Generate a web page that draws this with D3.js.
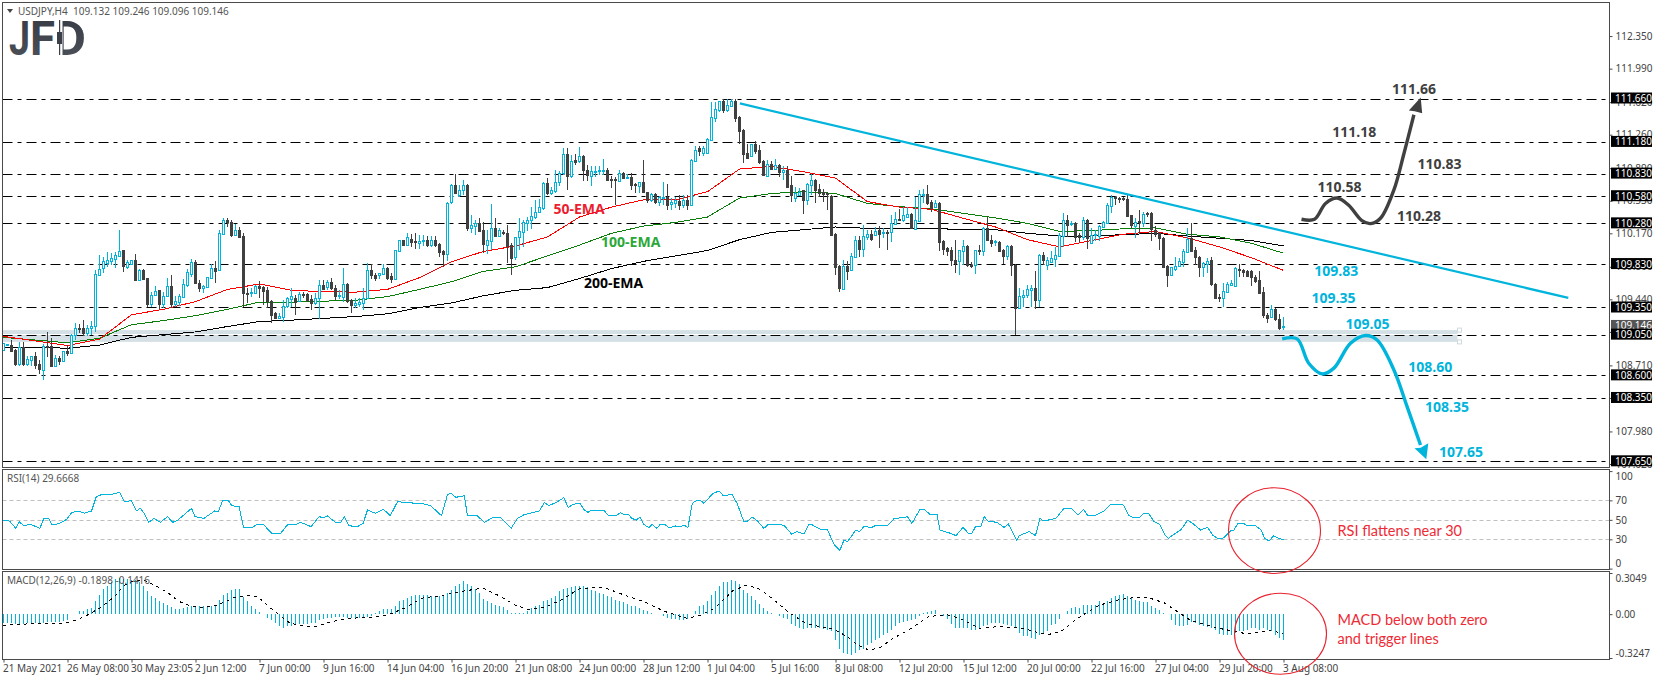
<!DOCTYPE html>
<html>
<head>
<meta charset="utf-8">
<script src="https://cdn.jsdelivr.net/npm/d3@7"></script>
<style>
  html, body { margin: 0; padding: 0; background: #fff; overflow: hidden; }
  text { font-family: "Noto Sans", sans-serif; }
</style>
</head>
<body>
<script>
// open, high, low, close of every H4 bar
const candleRows = [
[108.88,108.96,108.87,108.96],[108.94,108.95,108.93,108.95],[108.94,108.99,108.87,108.87],[108.88,108.89,108.70,108.72],[108.72,108.97,108.70,108.91],
[108.91,108.97,108.70,108.72],[108.72,108.81,108.70,108.78],[108.77,108.81,108.70,108.81],[108.81,108.86,108.67,108.71],[108.72,108.77,108.61,108.66],
[108.66,108.95,108.55,108.92],[108.92,109.08,108.80,108.91],[108.92,109.01,108.70,108.70],[108.70,108.82,108.70,108.79],[108.79,108.81,108.71,108.76],
[108.76,108.87,108.75,108.87],[108.87,108.94,108.81,108.85],[108.85,109.06,108.84,109.05],[109.04,109.18,108.99,109.12],[109.12,109.17,109.07,109.11],
[109.12,109.21,109.03,109.07],[109.07,109.16,109.03,109.12],[109.12,109.20,109.05,109.14],[109.14,109.76,109.08,109.72],[109.71,109.93,109.71,109.78],
[109.78,109.91,109.73,109.86],[109.85,109.96,109.80,109.88],[109.87,109.95,109.82,109.90],[109.89,109.96,109.79,109.93],[109.92,110.21,109.91,109.97],
[109.98,109.99,109.74,109.80],[109.80,109.87,109.77,109.85],[109.83,109.875,109.82,109.87],[109.875,109.94,109.64,109.65],[109.65,109.77,109.64,109.765],
[109.765,109.77,109.65,109.66],[109.68,109.68,109.35,109.39],[109.39,109.525,109.35,109.49],[109.485,109.59,109.48,109.53],[109.54,109.54,109.33,109.39],
[109.39,109.525,109.34,109.48],[109.48,109.68,109.47,109.59],[109.59,109.71,109.34,109.39],[109.39,109.48,109.35,109.42],[109.415,109.50,109.37,109.48],
[109.47,109.66,109.45,109.61],[109.60,109.77,109.58,109.74],[109.72,109.89,109.69,109.85],[109.85,109.87,109.61,109.62],[109.62,109.65,109.525,109.57],
[109.57,109.60,109.51,109.59],[109.58,109.69,109.565,109.69],[109.68,109.83,109.67,109.79],[109.79,109.86,109.625,109.76],[109.76,110.21,109.75,110.17],
[110.16,110.34,110.15,110.32],[110.32,110.34,110.24,110.30],[110.29,110.32,110.13,110.15],[110.16,110.27,110.14,110.21],[110.21,110.24,110.115,110.13],
[110.14,110.17,109.35,109.51],[109.51,109.56,109.40,109.50],[109.51,109.56,109.47,109.52],[109.515,109.60,109.51,109.59],[109.59,109.64,109.46,109.565],
[109.58,109.59,109.38,109.54],[109.54,109.58,109.34,109.42],[109.425,109.43,109.18,109.27],[109.29,109.30,109.22,109.24],[109.24,109.29,109.22,109.26],
[109.25,109.43,109.19,109.37],[109.36,109.47,109.34,109.45],[109.45,109.56,109.35,109.48],[109.46,109.49,109.27,109.42],[109.425,109.525,109.42,109.50],
[109.50,109.525,109.45,109.49],[109.50,109.51,109.415,109.43],[109.44,109.49,109.32,109.40],[109.40,109.51,109.38,109.46],[109.46,109.65,109.22,109.60],
[109.60,109.65,109.55,109.56],[109.57,109.65,109.54,109.63],[109.63,109.68,109.54,109.56],[109.57,109.60,109.43,109.485],[109.48,109.54,109.44,109.485],
[109.47,109.79,109.415,109.61],[109.61,109.625,109.40,109.425],[109.43,109.44,109.29,109.38],[109.38,109.45,109.34,109.40],[109.39,109.45,109.35,109.41],
[109.40,109.57,109.32,109.46],[109.455,109.84,109.44,109.765],[109.765,109.83,109.67,109.71],[109.71,109.73,109.64,109.68],[109.705,109.735,109.66,109.73],
[109.72,109.83,109.71,109.79],[109.79,109.795,109.65,109.68],[109.70,109.73,109.62,109.67],[109.67,109.99,109.66,109.99],[109.98,110.10,109.96,110.10],
[110.10,110.10,110.03,110.04],[110.04,110.17,110.03,110.13],[110.11,110.16,110.02,110.08],[110.09,110.17,110.00,110.08],[110.07,110.15,110.00,110.09],
[110.085,110.15,110.03,110.095],[110.10,110.14,110.02,110.04],[110.04,110.14,110.02,110.10],[110.10,110.14,110.02,110.04],[110.05,110.06,109.91,109.96],
[109.97,109.98,109.80,109.94],[109.95,110.52,109.86,110.51],[110.51,110.72,110.49,110.70],[110.70,110.825,110.60,110.61],[110.60,110.70,110.57,110.65],
[110.65,110.76,110.59,110.70],[110.70,110.71,110.19,110.23],[110.23,110.37,110.17,110.26],[110.25,110.32,110.15,110.28],[110.28,110.335,110.18,110.19],
[110.21,110.30,109.955,110.06],[110.05,110.21,109.94,110.10],[110.09,110.49,109.98,110.23],[110.23,110.335,110.125,110.14],[110.14,110.23,110.13,110.21],
[110.18,110.21,110.15,110.17],[110.17,110.26,109.84,110.03],[110.04,110.06,109.71,109.90],[109.90,110.13,109.87,110.125],[110.12,110.335,109.98,110.19],
[110.18,110.32,110.02,110.295],[110.29,110.35,110.19,110.32],[110.32,110.46,110.22,110.36],[110.35,110.54,110.33,110.405],[110.40,110.55,110.39,110.46],
[110.45,110.74,110.43,110.725],[110.725,110.78,110.59,110.61],[110.615,110.68,110.59,110.645],[110.64,110.87,110.61,110.74],[110.735,110.86,110.69,110.84],
[110.84,111.11,110.81,111.05],[111.05,111.11,110.65,110.81],[110.80,111.035,110.78,110.965],[110.98,111.05,110.92,110.96],[110.96,111.12,110.95,111.02],
[111.02,111.035,110.75,110.86],[110.87,110.92,110.75,110.81],[110.805,110.91,110.69,110.855],[110.85,110.91,110.795,110.86],[110.86,110.91,110.81,110.87],
[110.86,110.99,110.81,110.875],[110.87,110.89,110.75,110.76],[110.77,110.80,110.67,110.76],[110.77,110.79,110.48,110.76],[110.75,110.875,110.74,110.84],
[110.84,110.85,110.77,110.78],[110.78,110.825,110.77,110.79],[110.79,110.84,110.65,110.70],[110.71,110.73,110.61,110.70],[110.70,110.74,110.61,110.74],
[110.74,110.98,110.61,110.63],[110.63,110.63,110.50,110.54],[110.53,110.61,110.52,110.60],[110.60,110.61,110.49,110.51],[110.51,110.58,110.47,110.57],
[110.56,110.74,110.48,110.57],[110.57,110.72,110.43,110.48],[110.49,110.56,110.43,110.515],[110.51,110.57,110.45,110.54],[110.53,110.59,110.43,110.49],
[110.49,110.59,110.45,110.54],[110.54,110.59,110.43,110.485],[110.485,110.99,110.47,110.98],[110.97,111.13,110.96,111.09],[111.11,111.13,111.02,111.08],
[111.06,111.13,111.02,111.11],[111.06,111.22,111.05,111.21],[111.20,111.625,111.195,111.45],[111.44,111.625,111.40,111.54],[111.53,111.635,111.51,111.63],
[111.63,111.66,111.50,111.53],[111.53,111.66,111.51,111.59],[111.58,111.66,111.57,111.63],[111.635,111.66,111.40,111.45],[111.46,111.465,111.16,111.30],
[111.31,111.32,110.95,111.05],[111.06,111.16,111.00,111.01],[111.02,111.16,111.01,111.155],[111.155,111.19,111.05,111.08],[111.09,111.145,110.94,110.96],
[110.97,110.98,110.80,110.81],[110.81,110.98,110.80,110.94],[110.94,110.965,110.87,110.88],[110.89,110.99,110.875,110.93],[110.93,110.935,110.79,110.855],
[110.855,110.91,110.76,110.875],[110.875,110.91,110.68,110.69],[110.70,110.80,110.515,110.59],[110.57,110.685,110.52,110.62],[110.60,110.67,110.59,110.63],
[110.65,110.65,110.38,110.54],[110.54,110.73,110.48,110.715],[110.71,110.83,110.59,110.76],[110.76,110.77,110.51,110.65],[110.66,110.72,110.575,110.62],
[110.63,110.66,110.52,110.605],[110.62,110.63,110.43,110.605],[110.58,110.595,110.14,110.15],[110.16,110.17,109.71,109.80],[109.81,109.82,109.525,109.57],
[109.56,109.87,109.54,109.81],[109.81,109.86,109.65,109.76],[109.76,109.95,109.76,109.92],[109.91,110.14,109.905,110.10],[110.10,110.14,109.905,110.00],
[110.00,110.26,109.905,110.14],[110.125,110.21,110.10,110.16],[110.16,110.21,110.09,110.10],[110.155,110.24,110.15,110.20],[110.21,110.25,110.01,110.17],
[110.17,110.225,110.115,110.18],[110.18,110.21,109.98,110.17],[110.18,110.37,110.07,110.28],[110.275,110.41,110.26,110.325],[110.33,110.435,110.31,110.32],
[110.32,110.46,110.29,110.37],[110.35,110.46,110.35,110.38],[110.38,110.39,110.215,110.225],[110.215,110.575,110.21,110.32],[110.31,110.65,110.30,110.605],
[110.60,110.66,110.50,110.605],[110.605,110.70,110.48,110.51],[110.515,110.54,110.405,110.45],[110.46,110.54,110.445,110.50],[110.51,110.52,109.97,110.08],
[110.09,110.10,109.93,110.00],[110.01,110.02,109.92,109.98],[109.985,110.02,109.81,109.875],[109.88,110.10,109.735,109.85],[109.86,109.99,109.71,109.985],
[109.98,110.10,109.82,110.03],[110.03,110.04,109.80,109.82],[109.825,109.85,109.785,109.82],[109.82,109.99,109.72,109.985],[109.985,110.04,109.93,109.98],
[109.98,110.24,109.92,110.23],[110.23,110.35,110.08,110.10],[110.10,110.15,110.02,110.07],[110.07,110.10,110.03,110.08],[110.075,110.08,109.97,109.98],
[109.99,110.00,109.83,109.92],[109.92,110.04,109.88,110.03],[110.03,110.04,109.70,109.82],[109.82,109.83,109.05,109.35],[109.35,109.57,109.34,109.48],
[109.47,109.54,109.36,109.49],[109.48,109.60,109.46,109.55],[109.54,109.60,109.36,109.565],[109.565,109.75,109.33,109.43],[109.43,109.94,109.36,109.93],
[109.93,109.96,109.82,109.87],[109.82,109.905,109.76,109.875],[109.86,109.97,109.84,109.90],[109.89,110.02,109.80,109.93],[109.92,110.17,109.91,110.15],
[110.14,110.39,110.02,110.32],[110.32,110.37,110.13,110.265],[110.265,110.31,110.25,110.28],[110.28,110.30,110.07,110.13],[110.15,110.17,110.07,110.125],
[110.13,110.35,110.10,110.32],[110.32,110.325,110.00,110.125],[110.06,110.225,110.05,110.15],[110.15,110.21,110.08,110.16],[110.14,110.26,110.08,110.25],
[110.24,110.31,110.24,110.295],[110.29,110.50,110.28,110.485],[110.48,110.595,110.39,110.575],[110.57,110.58,110.48,110.56],[110.56,110.575,110.51,110.545],
[110.555,110.575,110.53,110.55],[110.55,110.595,110.355,110.36],[110.37,110.37,110.225,110.26],[110.26,110.335,110.115,110.30],[110.31,110.43,110.16,110.295],
[110.29,110.41,110.24,110.385],[110.39,110.41,110.35,110.385],[110.39,110.40,110.09,110.21],[110.21,110.25,110.125,110.17],[110.17,110.18,109.98,110.12],
[110.12,110.125,109.795,109.80],[109.81,109.82,109.58,109.715],[109.71,109.80,109.70,109.795],[109.78,109.91,109.75,109.81],[109.80,109.893,109.795,109.86],
[109.85,110.00,109.795,109.97],[109.965,110.225,109.95,110.11],[110.12,110.28,109.97,109.98],[109.99,110.02,109.82,109.91],[109.91,109.92,109.685,109.80],
[109.80,109.855,109.685,109.84],[109.83,109.90,109.73,109.86],[109.87,109.91,109.59,109.60],[109.61,109.62,109.455,109.455],[109.47,109.50,109.415,109.455],
[109.455,109.62,109.36,109.53],[109.525,109.63,109.515,109.61],[109.60,109.655,109.595,109.62],[109.59,109.80,109.58,109.785],[109.775,109.83,109.685,109.76],
[109.765,109.775,109.685,109.745],[109.75,109.76,109.685,109.70],[109.75,109.765,109.59,109.685],[109.685,109.71,109.625,109.64],[109.655,109.755,109.51,109.515],
[109.52,109.58,109.23,109.27],[109.27,109.29,109.18,109.24],[109.24,109.38,109.23,109.33],[109.33,109.34,109.205,109.22],[109.225,109.28,109.10,109.12],
[109.132,109.246,109.096,109.146]
];

// EMA readings, one every 8 bars
const emaBars = d3.range(0, 321, 8);
const ema50 = [109.03,108.98,108.93,109.00,109.27,109.33,109.415,109.55,109.61,109.54,109.525,109.52,109.55,109.68,109.855,109.97,110.03,110.13,110.35,110.46,110.54,110.54,110.63,110.88,110.91,110.85,110.78,110.52,110.46,110.435,110.335,110.24,110.10,110.02,110.09,110.16,110.19,110.12,110.02,109.90,109.76];
const ema100 = [109.02,108.99,108.96,109.01,109.16,109.205,109.26,109.33,109.41,109.41,109.42,109.43,109.47,109.55,109.635,109.75,109.80,109.92,110.04,110.17,110.25,110.29,110.35,110.56,110.61,110.63,110.61,110.50,110.465,110.44,110.39,110.34,110.28,110.19,110.20,110.22,110.23,110.16,110.13,110.06,109.95];
const ema200 = [108.91,108.91,108.90,108.935,109.02,109.05,109.08,109.14,109.195,109.21,109.23,109.25,109.28,109.35,109.40,109.48,109.54,109.57,109.67,109.78,109.86,109.92,109.98,110.10,110.18,110.21,110.24,110.225,110.225,110.225,110.21,110.21,110.17,110.14,110.14,110.155,110.17,110.14,110.115,110.09,110.03];

// RSI turning points: [bar, value]
const rsiPoints = [
[0,49.8],[1.5,48.8],[3.1,41.3],[3.9,48.1],[5.1,44],[6.8,45.4],[9.1,41.3],[10.1,51.5],[11.3,51.5],[12.2,44.7],[14,46.4],[15.8,50.5],[17.1,57.7],[18.9,59.1],[20.2,56.7],[22,59.1],[23.2,73.8],[24.7,76.2],[27.4,76.5],[29,78.2],
[30.2,68.6],[32,69.7],[33.2,59.1],[34.2,61.8],[35.2,56.7],[36.3,47.4],[37.6,51.5],[39.2,47.4],[41,53.3],[42.3,47.4],[43.6,49.8],[47,61.8],[47.9,53.3],[50.1,51.5],[52.8,59.1],[53.7,58.4],[54.8,69.7],[56.2,70],[57.1,64.5],[58.9,63.5],
[60,42.3],[62.2,42.3],[63.4,45.4],[64.9,45.4],[67.1,36.2],[69.3,36.2],[71.1,45.4],[72.9,44.7],[74.3,47.4],[76.9,43],[78.9,53.3],[79.9,52.2],[81,54],[83,47.4],[84.3,47.4],[85.2,53.3],[86.3,44],[88.5,43],[89.9,46.4],[91,60.1],
[93,56.7],[95,60.8],[96.7,54.3],[98.5,68.6],[100.2,68],[105,66.3],[106.8,64.5],[109.5,54.3],[111,76.2],[111.9,77.2],[113.1,73.1],[115.2,74.8],[116,54],[118.5,54],[120.2,47.4],[122.3,52.2],[124.3,52.2],[126.9,41.3],[128.5,51.5],[130,55],
[134,59.1],[135.2,68],[136.3,64.5],[138.5,68.6],[140.1,72.8],[141.2,62.5],[142.3,65.9],[144.1,67],[145.2,60.1],[146.1,57.7],[147,59.8],[150.1,59.8],[151.2,54.6],[153.3,54.6],[154.2,57.4],[155.1,55.7],[156.2,55.7],[157.1,51.5],[158.2,49.8],[159.1,52.6],
[160.1,45.4],[161.3,42],[162.2,45.4],[163.3,41.3],[164.2,45.4],[165.3,45.4],[166.4,42],[168,43.7],[169.3,43],[170.2,44.7],[171.1,42],[172.2,67],[173.4,70],[174.25,70],[175.1,67],[177.4,77.2],[178.9,79.6],[180,74.5],[182.1,76.2],[183.4,67],
[185.1,48.1],[186,48.8],[187.2,52.9],[188.5,48.8],[190.1,41.3],[191.2,45.4],[193.9,45.4],[195.2,44],[197,35.5],[198.4,37.9],[200.1,35.5],[201.2,44.7],[201.9,45.4],[204.2,40.6],[206,39.6],[207.7,24.2],[209.1,18.7],[210.1,29],[211,27.6],[213.1,39.6],
[214,37.9],[215.1,43],[217.1,42.3],[218.2,44.7],[221.1,44.7],[222.7,51.5],[224.7,52.2],[226,53.3],[227.1,46.4],[229.2,61.1],[230.1,61.1],[231.8,55],[233.4,55],[234.1,39.6],[236.75,36.2],[238.1,33.8],[239.9,42.3],[241.2,36.2],[242.1,36.2],[243,43],
[244.3,43],[245.2,53.3],[246.1,48.8],[248.4,47.4],[250.1,42.3],[251.2,45.7],[253.3,29],[253.9,33.8],[256.4,37.9],[258,33.8],[259.1,51.5],[260.1,48.8],[263.1,51.5],[265.1,61.8],[267.1,61.1],[268.7,55],[270,60.8],[271.1,54],[272.6,54],[275.1,59.1],
[276.75,65.9],[280,65.2],[281.2,55],[282.5,52.2],[284.1,52.6],[285.1,56.7],[286.3,56.7],[287.5,48.8],[289,45.4],[290.5,33.8],[291.2,31],[293,36.2],[294.3,39.6],[296.1,49.8],[297.6,45.4],[299.25,39.6],[301,42.3],[302.4,33.8],[303.9,30.3],[305.05,31.7],
[306.8,38.6],[307.5,38.6],[308.6,46.4],[310,46.4],[311,43.7],[313.1,43.7],[314.4,39.6],[315.3,31],[316.4,28.3],[317.55,33.8],[318.7,31],[320,29.67]
];

// MACD histogram, one value per bar
const macdHist = [
-.065,-.065,-.068,-.07,-.07,-.07,-.068,-.068,-.066,-.062,-.062,-.06,-.06,-.06,-.058,-.05,-.04,-.002,.002,.02,
.025,.037,.045,.10,.143,.185,.21,.24,.26,.267,.26,.26,.255,.255,.24,.205,.168,.138,.12,.094,
.08,.07,.052,.04,.037,.044,.05,.057,.06,.06,.06,.062,.062,.07,.105,.143,.155,.18,.188,.188,
.13,.10,.057,.037,.015,0,-.025,-.042,-.062,-.084,-.099,-.091,-.084,-.079,-.074,-.072,-.072,-.069,-.062,-.042,
-.035,-.03,-.025,-.022,-.02,-.022,-.03,-.03,-.03,-.03,-.028,-.02,-.01,.007,.02,.04,.04,.04,.057,.094,
.106,.123,.136,.143,.143,.143,.143,.138,.138,.138,.143,.155,.18,.205,.222,.242,.222,.205,.188,.155,
.114,.094,.08,.07,.062,.05,.032,.012,.007,.007,.012,.025,.044,.057,.07,.10,.106,.119,.136,.168,
.188,.193,.198,.205,.21,.205,.2,.18,.168,.156,.148,.138,.124,.106,.099,.089,.074,.064,.057,.044,
.032,.02,.005,.002,.002,-.017,-.03,-.035,-.035,-.04,-.042,-.035,-.002,.02,.057,.069,.099,.143,.173,.212,
.237,.237,.254,.249,.222,.18,.156,.131,.106,.074,.044,.02,.007,.001,-.017,-.025,-.035,-.074,-.086,-.104,
-.109,-.104,-.099,-.099,-.099,-.109,-.121,-.128,-.195,-.257,-.289,-.296,-.301,-.289,-.264,-.257,-.227,-.215,-.195,-.178,
-.158,-.136,-.121,-.091,-.067,-.059,-.049,-.042,-.035,-.017,.007,.015,.02,.032,.002,-.017,-.035,-.074,-.099,-.099,
-.104,-.104,-.121,-.116,-.104,-.091,-.079,-.067,-.067,-.067,-.074,-.079,-.084,-.104,-.141,-.165,-.165,-.173,-.183,-.153,
-.141,-.128,-.079,-.074,-.035,-.001,.025,.049,.052,.049,.069,.069,.069,.069,.099,.075,.099,.119,.131,.143,
.148,.138,.126,.106,.094,.089,.089,.064,.049,.032,.007,-.001,-.042,-.079,-.086,-.086,-.079,-.059,-.067,-.079,
-.084,-.096,-.099,-.116,-.148,-.158,-.158,-.153,-.141,-.124,-.124,-.116,-.104,-.099,-.116,-.104,-.116,-.128,-.158,-.173,-.1898
];

// MACD signal line: [bar, value]
const macdSignal = [
[0,-.084],[4.6,-.074],[9.1,-.069],[15.3,-.067],[18.4,-.042],[21.1,-.005],[24.3,.049],[27.8,.131],[30.1,.212],[32.7,.249],[35.4,.249],[38.5,.205],[41.2,.156],[43.9,.094],[46.6,.062],[50.2,.049],[53.7,.069],[57.3,.119],[60.9,.138],[63.5,.131],
[65.8,.069],[68.4,.007],[71.6,-.067],[75.2,-.089],[78.3,-.089],[82.3,-.054],[86.7,-.03],[91.2,-.025],[96.1,-.005],[100.2,.044],[104.6,.119],[109.1,.136],[114.4,.168],[119.8,.193],[124.3,.131],[127.8,.069],[131.4,.032],[135.9,.057],[140.3,.119],[143.9,.188],
[148.4,.198],[151,.188],[154.6,.148],[160,.094],[165.3,.02],[170.7,-.03],[174.25,-.01],[177.8,.044],[182.3,.173],[185.9,.217],[189.4,.18],[192.6,.106],[196.6,.007],[201,-.074],[207.3,-.109],[210.9,-.165],[213.5,-.227],[216.2,-.264],[218.9,-.252],[222.5,-.178],
[227,-.104],[231.4,-.017],[235.9,-.005],[239.4,-.035],[243.9,-.104],[249.25,-.091],[254.6,-.104],[260.9,-.153],[264.4,-.128],[268,-.042],[272.5,.044],[274.25,.069],[278.7,.106],[283.2,.126],[285.9,.126],[290.3,.082],[293.45,.02],[296.6,-.042],[301,-.084],[304.6,-.109],
[310,-.141],[312.6,-.141],[316.2,-.121],[320,-.1416]
];

const dateLabels = ["21 May 2021","26 May 08:00","30 May 23:05","2 Jun 12:00","7 Jun 00:00","9 Jun 16:00","14 Jun 04:00","16 Jun 20:00","21 Jun 08:00","24 Jun 00:00","28 Jun 12:00","1 Jul 04:00","5 Jul 16:00","8 Jul 08:00","12 Jul 20:00","15 Jul 12:00","20 Jul 00:00","22 Jul 16:00","27 Jul 04:00","29 Jul 20:00","3 Aug 08:00"];
const dateBars = d3.range(0, 321, 16);

const priceTicks = [112.35,111.99,111.62,111.26,110.89,110.53,110.17,109.80,109.44,109.08,108.71,108.35,107.98,107.62];
const levels = [111.66,111.18,110.83,110.58,110.28,109.83,109.35,109.05,108.60,108.35,107.65];
const lastPrice = 109.146;
const rsiLevels = [70,50,30];
const rsiTicks = [100,70,50,30,0];
const macdTicks = [0.3049,0,-0.3247];

// zone under 109.05
const zoneBars = [0, 363.5], zonePrices = [109.10, 108.97];

// drawn on the chart: trendline and the two projected paths, as [bar, price]
const trendline = [[184.1,111.606],[391.2,109.456]];
const upPath = [[324.5,110.325],[327.75,110.325],[330.5,110.50],[333.4,110.56],[336.3,110.48],[339.6,110.31],[341.75,110.277],[344.25,110.336],[347.6,110.65],[350.1,111.05],[352.6,111.48]];
const upHead = [[354.3,111.67],[351.33,111.526],[352.8,111.52],[354.67,111.496]];
const downPath = [[319.67,109.003],[323.4,109.003],[326.3,108.734],[329.7,108.616],[332.6,108.68],[336.75,108.955],[340.5,109.04],[343.4,108.99],[347.6,108.66],[350.9,108.255],[354.25,107.83]];
const downHead = [[355.7,107.673],[352.75,107.795],[354.3,107.80],[356.2,107.85]];

// annotation texts, placed as [bar, price]
const upLabels = [["111.66",347.1,111.71],["111.18",332.2,111.23],["110.83",353.5,110.88],["110.58",328.5,110.63],["110.28",348.4,110.31]];
const downLabels = [["109.83",327.7,109.70],["109.35",327,109.40],["109.05",335.5,109.11],["108.60",351.2,108.64],["108.35",355.4,108.19],["107.65",358.9,107.70]];
const emaLabels = [["50-EMA",137.5,110.38,"#ed1c2e"],["100-EMA",149.4,110.02,"#2aa838"],["200-EMA",145.1,109.565,"#000"]];

const width = 1655, height = 680;
const blue = "#00b4dc", dark = "#404040", frameColour = "#4a4a4a";

const svg = d3.select("body").append("svg")
    .attr("width", width)
    .attr("height", height)
    .style("display", "block");

svg.append("rect").attr("width", width).attr("height", height).attr("fill", "white");

const x = d3.scaleLinear().domain([0, 320]).range([3.5, 1283.5]);
const yPrice = d3.scaleLinear().domain([107.65, 111.66]).range([461.3, 98.5]);
const yRsi = d3.scaleLinear().domain([0, 100]).range([568.6, 471.1]);
const yMacd = d3.scaleLinear().domain([-0.3247, 0.3049]).range([658, 573]);

const left = 2.5, right = 1609.5;
const panels = [[2.5, 467.5], [469.5, 569.5], [571.5, 659.5]];

function toPoints(rows, yScale) {
    return rows.map(d => [x(d[0]), yScale(d[1])]);
}

// zone band
svg.append("rect")
    .attr("x", left)
    .attr("y", yPrice(zonePrices[0]))
    .attr("width", x(zoneBars[1]) - left)
    .attr("height", yPrice(zonePrices[1]) - yPrice(zonePrices[0]))
    .attr("fill", "#d4e0e5");
svg.selectAll("rect.handle")
    .data(zonePrices)
    .enter().append("rect")
        .attr("class", "handle")
        .attr("x", x(zoneBars[1]))
        .attr("y", d => yPrice(d) - 2)
        .attr("width", 4)
        .attr("height", 4)
        .attr("fill", "white")
        .attr("stroke", "#d0dadf");
svg.append("line")
    .attr("x1", left).attr("x2", x(zoneBars[1]))
    .attr("y1", Math.round(yPrice(109.05)) - 0.5).attr("y2", Math.round(yPrice(109.05)) - 0.5)
    .attr("stroke", "white");

// dash-dot price levels
svg.selectAll("line.level")
    .data(levels)
    .enter().append("line")
        .attr("class", "level")
        .attr("x1", left).attr("x2", right)
        .attr("y1", d => Math.round(yPrice(d)) + 0.5)
        .attr("y2", d => Math.round(yPrice(d)) + 0.5)
        .attr("stroke", "black")
        .attr("stroke-dasharray", "10 5 4 5");

// EMAs
const emaLine = d3.line().x((d, i) => x(emaBars[i])).y(d => yPrice(d));
[[ema200, "#000"], [ema100, "#0a7d0a"], [ema50, "#f00"]].forEach(([values, colour]) => {
    svg.append("path")
        .attr("d", emaLine(values))
        .attr("fill", "none")
        .attr("stroke", colour)
        .attr("shape-rendering", "crispEdges");
});

// candles
const candles = svg.append("g").attr("shape-rendering", "crispEdges")
    .selectAll("g")
    .data(candleRows)
    .enter().append("g");

candles.append("line")
    .attr("x1", (d, i) => x(i)).attr("x2", (d, i) => x(i))
    .attr("y1", d => yPrice(d[1])).attr("y2", d => yPrice(d[2]))
    .attr("stroke", d => d[3] >= d[0] ? blue : dark);

candles.append("rect")
    .attr("x", (d, i) => x(i) - 1)
    .attr("y", d => Math.round(yPrice(Math.max(d[0], d[3]))) + 0.5)
    .attr("width", 2)
    .attr("height", d => Math.max(1, Math.round(Math.abs(yPrice(d[0]) - yPrice(d[3])))))
    .attr("fill", d => d[3] >= d[0] ? "white" : dark)
    .attr("stroke", d => d[3] >= d[0] ? blue : dark);

// trendline and projected paths
svg.append("path")
    .attr("d", d3.line()(toPoints(trendline, yPrice)))
    .attr("fill", "none")
    .attr("stroke", blue)
    .attr("stroke-width", 2.2);

const smooth = d3.line().curve(d3.curveCatmullRom.alpha(0.5));
[[upPath, upHead, dark], [downPath, downHead, blue]].forEach(([path, head, colour]) => {
    svg.append("path")
        .attr("d", smooth(toPoints(path, yPrice)))
        .attr("fill", "none")
        .attr("stroke", colour)
        .attr("stroke-width", 3.4);
    svg.append("polygon")
        .attr("points", toPoints(head, yPrice).join(" "))
        .attr("fill", colour);
});

// annotation labels
function boldLabels(cls, rows, colour) {
    svg.selectAll("text." + cls)
        .data(rows)
        .enter().append("text")
            .attr("class", cls)
            .attr("x", d => x(d[1]))
            .attr("y", d => yPrice(d[2]))
            .attr("fill", d => d[3] || colour)
            .style("font-family", "'Open Sans'")
            .style("font-weight", 700)
            .style("font-size", "14px")
            .text(d => d[0]);
}
boldLabels("up", upLabels, dark);
boldLabels("down", downLabels, blue);
boldLabels("ema", emaLabels);

// RSI panel
svg.selectAll("line.rsi-level")
    .data(rsiLevels)
    .enter().append("line")
        .attr("class", "rsi-level")
        .attr("x1", left).attr("x2", right)
        .attr("y1", d => Math.round(yRsi(d)) + 0.5)
        .attr("y2", d => Math.round(yRsi(d)) + 0.5)
        .attr("stroke", "#c0c0c0")
        .attr("stroke-dasharray", "4 3");

svg.append("path")
    .attr("d", d3.line()(toPoints(rsiPoints, yRsi)))
    .attr("fill", "none")
    .attr("stroke", blue)
    .attr("shape-rendering", "crispEdges");

// MACD panel
svg.append("g").attr("shape-rendering", "crispEdges")
    .selectAll("line")
    .data(macdHist)
    .enter().append("line")
        .attr("x1", (d, i) => x(i)).attr("x2", (d, i) => x(i))
        .attr("y1", yMacd(0))
        .attr("y2", d => yMacd(d))
        .attr("stroke", blue);

svg.append("path")
    .attr("d", d3.line()(toPoints(macdSignal, yMacd)))
    .attr("fill", "none")
    .attr("stroke", "black")
    .attr("shape-rendering", "crispEdges")
    .attr("stroke-dasharray", "3 4");

// frames
svg.selectAll("rect.frame")
    .data(panels)
    .enter().append("rect")
        .attr("class", "frame")
        .attr("x", left).attr("y", d => d[0])
        .attr("width", right - left).attr("height", d => d[1] - d[0])
        .attr("fill", "none")
        .attr("stroke", frameColour);

// axes
function styleAxis(g) {
    g.select(".domain").remove();
    g.selectAll("line").attr("stroke", frameColour);
    g.selectAll("text")
        .attr("fill", "#444")
        .style("font-family", "'Noto Sans'")
        .style("font-size", "10px");
}

svg.append("g")
    .attr("transform", `translate(${right},0)`)
    .call(d3.axisRight(yPrice).tickValues(priceTicks).tickFormat(d3.format(".3f")).tickSize(3).tickPadding(3))
    .call(styleAxis);

svg.append("g")
    .attr("transform", `translate(${right},0)`)
    .call(d3.axisRight(yRsi).tickValues(rsiTicks).tickSize(3).tickPadding(3))
    .call(styleAxis)
    .selectAll("text")
    .attr("dy", d => d === 100 ? "0.85em" : d === 0 ? "-0.25em" : "0.32em");

svg.append("g")
    .attr("transform", `translate(${right},0)`)
    .call(d3.axisRight(yMacd).tickValues(macdTicks).tickFormat(d => d === 0 ? "0.00" : d).tickSize(3).tickPadding(3))
    .call(styleAxis)
    .selectAll("text")
    .attr("dy", d => d > 0 ? "0.85em" : d < 0 ? "-0.2em" : "0.32em");

svg.append("g")
    .attr("transform", `translate(0,${panels[2][1]})`)
    .call(d3.axisBottom(x).tickValues(dateBars).tickFormat((d, i) => dateLabels[i]).tickSize(3).tickPadding(2))
    .call(styleAxis)
    .selectAll("text")
    .attr("text-anchor", "start")
    .attr("dx", -1);

// boxed levels on the price axis
const boxes = [{ price: lastPrice, fill: "#555", text: "109.146" }]
    .concat(levels.map(d => ({ price: d, fill: "black", text: d.toFixed(3) })));
const box = svg.selectAll("g.box").data(boxes).enter().append("g").attr("class", "box");
box.append("rect")
    .attr("x", 1611).attr("y", d => yPrice(d.price) - 6)
    .attr("width", 41).attr("height", 11)
    .attr("fill", d => d.fill);
box.append("text")
    .attr("x", 1615).attr("y", d => yPrice(d.price) + 3.5)
    .attr("fill", "white")
    .style("font-size", "10px")
    .text(d => d.text);

// headers
svg.append("path").attr("d", "M7,9 L13,9 L10,13 Z").attr("fill", "#444");
svg.append("text").attr("x", 18).attr("y", 14.5).attr("fill", "#555").style("font-size", "10px")
    .attr("xml:space", "preserve")
    .text("USDJPY,H4  109.132 109.246 109.096 109.146");
svg.append("text").attr("x", 7).attr("y", 482).attr("fill", "#555").style("font-size", "10px")
    .text("RSI(14) 29.6668");
svg.append("text").attr("x", 7).attr("y", 583.5).attr("fill", "#555").style("font-size", "10px")
    .text("MACD(12,26,9) -0.1898 -0.1416");

// logo, three separate letters with a candlestick in place of the D's stem
const grad = svg.append("defs").append("linearGradient")
    .attr("id", "logoFill").attr("x1", 0).attr("y1", 0).attr("x2", 0).attr("y2", 1);
grad.append("stop").attr("offset", 0).attr("stop-color", "#333842");
grad.append("stop").attr("offset", 1).attr("stop-color", "#4f545c");
svg.selectAll("text.logo")
    .data([["J", 9, 21], ["F", 30, 25], ["D", 53, 33]])
    .enter().append("text")
        .attr("class", "logo")
        .attr("x", d => d[1]).attr("y", 55)
        .attr("fill", "url(#logoFill)")
        .attr("textLength", d => d[2])
        .attr("lengthAdjust", "spacingAndGlyphs")
        .style("font-family", "Roboto")
        .style("font-weight", 700)
        .style("font-size", "49px")
        .text(d => d[0]);
svg.append("rect").attr("x", 55).attr("y", 18).attr("width", 7.5).attr("height", 39).attr("fill", "white");
svg.append("rect").attr("x", 59).attr("y", 20).attr("width", 1.2).attr("height", 35).attr("fill", "#3a3f48");
svg.append("rect").attr("x", 57).attr("y", 32).attr("width", 5).attr("height", 12).attr("fill", "#3a3f48");

// red circles and notes
const notes = [
    { barRange: [306.25, 329.25], top: 83, bottom: -5, scale: "rsi" },
    { barRange: [307.75, 330.75], top: 0.155, bottom: -0.445, scale: "macd" }
];
svg.selectAll("ellipse.note")
    .data(notes)
    .enter().append("ellipse")
        .attr("class", "note")
        .attr("cx", d => x((d.barRange[0] + d.barRange[1]) / 2))
        .attr("rx", d => (x(d.barRange[1]) - x(d.barRange[0])) / 2)
        .attr("cy", d => {
            const s = d.scale === "rsi" ? yRsi : yMacd;
            return (s(d.top) + s(d.bottom)) / 2;
        })
        .attr("ry", d => {
            const s = d.scale === "rsi" ? yRsi : yMacd;
            return (s(d.bottom) - s(d.top)) / 2;
        })
        .attr("fill", "none")
        .attr("stroke", "#e8222e")
        .attr("stroke-width", 1.1);

const noteTexts = [["RSI flattens near 30", 536.3], ["MACD below both zero", 624.7], ["and trigger lines", 643.7]];
svg.selectAll("text.note")
    .data(noteTexts)
    .enter().append("text")
        .attr("class", "note")
        .attr("x", 1337.5)
        .attr("y", d => d[1])
        .attr("fill", "#ee2a35")
        .style("font-family", "Lato")
        .style("font-size", "14.5px")
        .text(d => d[0]);
</script>
</body>
</html>
